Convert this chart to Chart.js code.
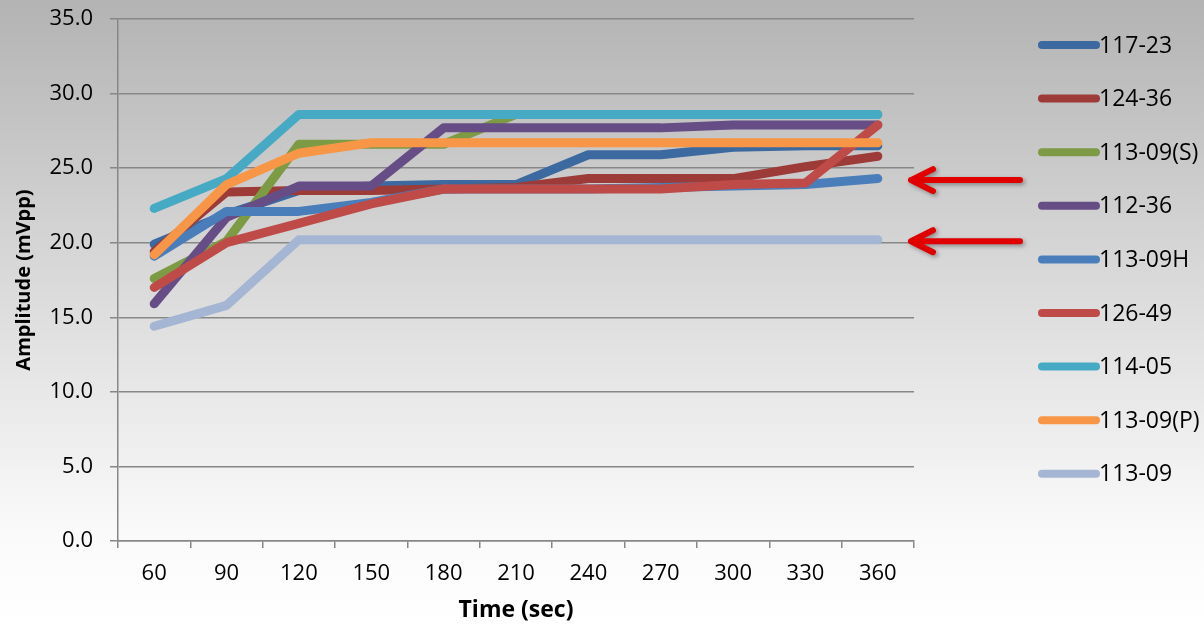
<!DOCTYPE html>
<html>
<head>
<meta charset="utf-8">
<script src="https://cdn.jsdelivr.net/npm/chart.js"></script>
<style>
  body { margin: 0; background: #fff; }
  canvas { display: block; }
</style>
</head>
<body>
<canvas id="myChart" width="1204" height="628"></canvas>
<script>
// x categories (sec)
const timeLabels = ['60', '90', '120', '150', '180', '210', '240', '270', '300', '330', '360'];

// amplitude per sample (mVpp)
const s117_23  = [19.9, 21.9, 23.5, 23.8, 23.9, 23.9, 25.9, 25.9, 26.4, 26.5, 26.5];
const s124_36  = [19.4, 23.4, 23.5, 23.5, 23.6, 23.7, 24.3, 24.3, 24.3, 25.1, 25.8];
const s113_09S = [17.6, 20.1, 26.6, 26.6, 26.6, 28.6, 28.6, 28.6, 28.6, 28.6, 28.6];
const s112_36  = [15.9, 21.7, 23.8, 23.8, 27.7, 27.7, 27.7, 27.7, 27.9, 27.9, 27.9];
const s113_09H = [19.1, 22.1, 22.1, 22.7, 23.6, 23.6, 23.6, 23.7, 23.8, 23.9, 24.3];
const s126_49  = [17.0, 20.0, 21.3, 22.6, 23.6, 23.6, 23.6, 23.6, 23.9, 24.0, 27.9];
const s114_05  = [22.3, 24.3, 28.6, 28.6, 28.6, 28.6, 28.6, 28.6, 28.6, 28.6, 28.6];
const s113_09P = [19.2, 23.9, 26.0, 26.7, 26.7, 26.7, 26.7, 26.7, 26.7, 26.7, 26.7];
const s113_09  = [14.4, 15.8, 20.2, 20.2, 20.2, 20.2, 20.2, 20.2, 20.2, 20.2, 20.2];

const seriesNames  = ['117-23', '124-36', '113-09(S)', '112-36', '113-09H', '126-49', '114-05', '113-09(P)', '113-09'];
const seriesValues = [s117_23, s124_36, s113_09S, s112_36, s113_09H, s126_49, s114_05, s113_09P, s113_09];
const seriesColors = ['#3c6aa0', '#9c3b38', '#7d9b45', '#664d85', '#4a7ebb', '#be4b48', '#46aac5', '#f79646', '#a5b6d4'];

// values the two red arrows point at
const arrowValues = [24.2, 20.1];

const FONT = "'Open Sans', 'Noto Sans', sans-serif";

var datasets = [];
for (var i = 0; i < seriesNames.length; i++) {
  datasets.push({
    label: seriesNames[i],
    data: seriesValues[i],
    borderColor: seriesColors[i],
    backgroundColor: seriesColors[i],
    borderWidth: 9,
    borderCapStyle: 'round',
    borderJoinStyle: 'round',
    pointRadius: 0,
    tension: 0,
    fill: false,
    order: seriesNames.length - i   // later series on top, like excel
  });
}

// grey to white background over the whole picture
const bgPlugin = {
  id: 'bg',
  beforeDraw(chart) {
    const ctx = chart.ctx;
    const g = ctx.createLinearGradient(0, 0, 0, chart.height);
    g.addColorStop(0, '#b3b3b3');
    g.addColorStop(0.45, '#dadada');
    g.addColorStop(0.85, '#fafafa');
    g.addColorStop(1, '#ffffff');
    ctx.save();
    ctx.fillStyle = g;
    ctx.fillRect(0, 0, chart.width, chart.height);
    ctx.restore();
  }
};

// legend drawn by hand on the right
const legendPlugin = {
  id: 'sideLegend',
  afterDraw(chart) {
    const ctx = chart.ctx;
    ctx.save();
    ctx.font = '23px ' + FONT;
    ctx.textBaseline = 'middle';
    ctx.textAlign = 'left';
    for (var i = 0; i < seriesNames.length; i++) {
      const y = 45 + i * 53.6;
      ctx.strokeStyle = seriesColors[i];
      ctx.lineWidth = 8;
      ctx.lineCap = 'round';
      ctx.beginPath();
      ctx.moveTo(1042, y);
      ctx.lineTo(1096, y);
      ctx.stroke();
      ctx.fillStyle = '#000';
      ctx.fillText(seriesNames[i], 1099, y + 1);
    }
    ctx.restore();
  }
};

// red arrows pointing at the plateau levels
const arrowPlugin = {
  id: 'arrows',
  afterDraw(chart) {
    const ctx = chart.ctx;
    const yScale = chart.scales.y;
    const tip = chart.chartArea.right - 3;
    ctx.save();
    ctx.strokeStyle = '#e00000';
    ctx.lineWidth = 6;
    ctx.lineCap = 'round';
    ctx.lineJoin = 'round';
    ctx.shadowColor = 'rgba(0,0,0,0.35)';
    ctx.shadowBlur = 4;
    ctx.shadowOffsetX = 2;
    ctx.shadowOffsetY = 2;
    arrowValues.forEach(function (v) {
      const y = yScale.getPixelForValue(v);
      ctx.beginPath();
      ctx.moveTo(1020, y);
      ctx.lineTo(tip, y);
      ctx.moveTo(tip + 22, y - 11);
      ctx.lineTo(tip, y);
      ctx.lineTo(tip + 22, y + 11);
      ctx.stroke();
    });
    ctx.restore();
  }
};

const gridGrey = '#878787';

const config = {
  type: 'line',
  data: { labels: timeLabels, datasets: datasets },
  options: {
    responsive: false,
    animation: false,
    layout: { padding: { top: 19, right: 290, bottom: 0, left: 0 } },
    plugins: {
      legend: { display: false },
      tooltip: { enabled: false }
    },
    scales: {
      x: {
        type: 'category',
        offset: true,
        grid: {
          offset: true,
          drawOnChartArea: false,
          drawTicks: true,
          tickLength: 7,
          color: gridGrey,
          lineWidth: 1.5
        },
        border: { display: true, color: gridGrey, width: 1.5 },
        ticks: {
          color: '#000',
          font: { family: FONT, size: 22 },
          padding: 13,
          maxRotation: 0
        },
        title: {
          display: true,
          text: 'Time (sec)',
          color: '#000',
          font: { family: FONT, size: 23, weight: 'bold' },
          padding: { top: 4, bottom: 4 }
        },
        afterFit(scale) { scale.height = 87; }
      },
      y: {
        min: 0,
        max: 35,
        grid: {
          color: gridGrey,
          lineWidth: 1.5,
          drawTicks: true,
          tickLength: 8
        },
        border: { display: true, color: gridGrey, width: 1.5 },
        ticks: {
          stepSize: 5,
          color: '#000',
          font: { family: FONT, size: 22 },
          padding: 17,
          callback: function (v) { return v.toFixed(1); }
        },
        title: {
          display: true,
          text: 'Amplitude (mVpp)',
          color: '#000',
          font: { family: FONT, size: 20, weight: 'bold' },
          padding: { top: 12, bottom: 0 }
        },
        afterFit(scale) {
          scale.width = 118;
          scale.paddingTop = 0;
          scale.paddingBottom = 0;
        }
      }
    }
  },
  plugins: [bgPlugin, legendPlugin, arrowPlugin]
};

const ctx = document.getElementById('myChart').getContext('2d');
const myChart = new Chart(ctx, config);
</script>
</body>
</html>
